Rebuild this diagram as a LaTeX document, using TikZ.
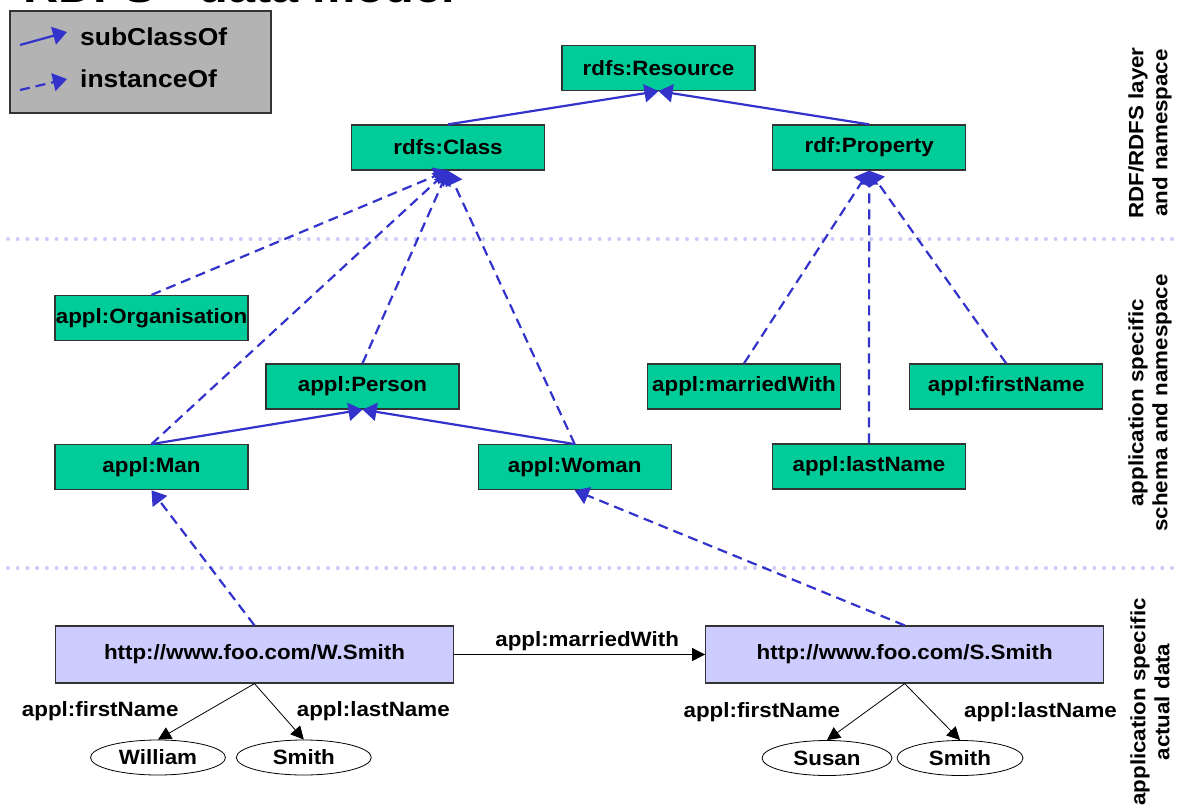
\documentclass[tikz,border=0pt]{standalone}
\usepackage{fontspec}
\setmainfont{Liberation Sans}[FakeStretch=1.08]
\usetikzlibrary{positioning,arrows.meta,shapes.geometric}

\definecolor{rdfgreen}{RGB}{0,204,153}
\definecolor{datablue}{RGB}{204,204,255}
\definecolor{linkblue}{RGB}{51,51,204}
\definecolor{dotblue}{RGB}{204,204,250}
\definecolor{legendgray}{RGB}{179,179,179}
\definecolor{boxline}{RGB}{51,51,51}

\begin{document}
\begin{tikzpicture}[x=1pt,y=-1pt,font=\bfseries\fontsize{20.7}{24}\selectfont]
    \tikzstyle{block} = [rectangle, draw=boxline, line width=1.2pt, fill=rdfgreen,
        minimum width=193pt, minimum height=45pt, inner sep=0pt]
    \tikzstyle{data} = [block, fill=datablue, minimum width=398pt,
        minimum height=57pt]
    \tikzstyle{literal} = [ellipse, draw, line width=0.8pt, fill=white,
        minimum width=135pt, minimum height=35pt, inner sep=0pt]
    \tikzstyle{sub} = [draw=linkblue, line width=2.2pt,
        -{Triangle[length=14pt,width=18pt]}]
    \tikzstyle{inst} = [sub, dash pattern=on 10pt off 6pt]
    \tikzstyle{prop} = [draw, line width=0.8pt, -{Triangle[length=13pt,width=13pt]}]
    \tikzstyle{layer} = [draw=dotblue, line width=4pt, line cap=round,
        dash pattern=on 0pt off 9.7pt]
    \tikzstyle{side} = [rotate=90, align=center]

    \useasboundingbox (0,0) rectangle (1178,805);

    % Title (cut off by the page)
    \node[anchor=base west, inner sep=0pt, font=\bfseries\fontsize{45}{50}\selectfont]
        (title) at (23,3) {RDFS - data model};

    % Legend
    \node[draw=boxline, line width=1.2pt, fill=legendgray, minimum width=261pt,
        minimum height=102pt, inner sep=0pt] (legend) at (140.5,62) {};
    \node[anchor=west, inner sep=0pt, font=\bfseries\fontsize{24.5}{28}\selectfont]
        (subname) at (80,37) {subClassOf};
    \node[anchor=west, inner sep=0pt, font=\bfseries\fontsize{24.5}{28}\selectfont]
        (instname) at (80,79) {instanceOf};
    \coordinate (subfrom) at (20,45);
    \coordinate (subto) at (67,32);
    \coordinate (instfrom) at (20,90);
    \coordinate (instto) at (67,79);
    \draw[sub] (subfrom) -- (subto);
    \draw[inst] (instfrom) -- (instto);

    % Layer separators
    \draw[layer] (8,239) -- (1178,239);
    \draw[layer] (8,568) -- (1178,568);

    % RDF/RDFS layer
    \node[block] (resource) at (658.5,68) {rdfs:Resource};
    \node[block] (class) at (448,147.5) {rdfs:Class};
    \node[block, right=227pt of class] (property) {rdf:Property};
    \draw[sub] (class.north) -- (resource.south);
    \draw[sub] (property.north) -- (resource.south);

    % Schema layer
    \node[block] (organisation) at (151.5,318) {appl:Organisation};
    \node[block, below=103pt of organisation] (man) {appl:Man};
    \node[block] (person) at (362.5,386.5) {appl:Person};
    \node[block, right=229pt of man] (woman) {appl:Woman};
    \node[block] (married) at (744,386.5) {appl:marriedWith};
    \node[block, right=68pt of married] (firstname) {appl:firstName};
    \node[block] (lastname) at (869,466.5) {appl:lastName};
    \draw[inst] (organisation.north) -- (class.south);
    \draw[inst] (man.north) -- (class.south);
    \draw[inst] (person.north) -- (class.south);
    \draw[inst] (woman.north) -- (class.south);
    \draw[sub] (man.north) -- (person.south);
    \draw[sub] (woman.north) -- (person.south);
    \draw[inst] (married.north) -- (property.south);
    \draw[inst] (lastname.north) -- (property.south);
    \draw[inst] (firstname.north) -- (property.south);

    % Data layer
    \node[data] (wsmith) at (254.5,654.5) {http://www.foo.com/W.Smith};
    \node[data, right=251pt of wsmith] (ssmith) {http://www.foo.com/S.Smith};
    \node[literal] (william) at (158,757.5) {William};
    \node[literal, right=10pt of william] (wlast) {Smith};
    \node[literal, minimum width=130pt] (susan) at (827,758) {Susan};
    \node[literal, minimum width=126pt] (slast) at (960,758) {Smith};
    \draw[inst] (wsmith.north) -- (man.south);
    \draw[inst] (ssmith.north) -- (woman.south);
    \draw[prop] (wsmith) -- node[above, pos=.53] (marriedlbl) {appl:marriedWith}
        (ssmith);
    \draw[prop] (wsmith.south) -- node[left=24pt] (wfirstlbl) {appl:firstName}
        (william.north);
    \draw[prop] (wsmith.south) -- node[right=14pt] (wlastlbl) {appl:lastName}
        (wlast.north);
    \draw[prop] (ssmith.south) -- node[left=22pt] (sfirstlbl) {appl:firstName}
        (susan.north);
    \draw[prop] (ssmith.south) -- node[right=28pt] (slastlbl) {appl:lastName}
        (slast.north);

    % Layer names
    \node[side] (rdflayer) at (1150,133) {RDF/RDFS layer\\and namespace};
    \node[side] (schemalayer) at (1150,403) {application specific\\schema and namespace};
    \node[side] (datalayer) at (1150,702) {application specific\\actual data};
\end{tikzpicture}
\end{document}
